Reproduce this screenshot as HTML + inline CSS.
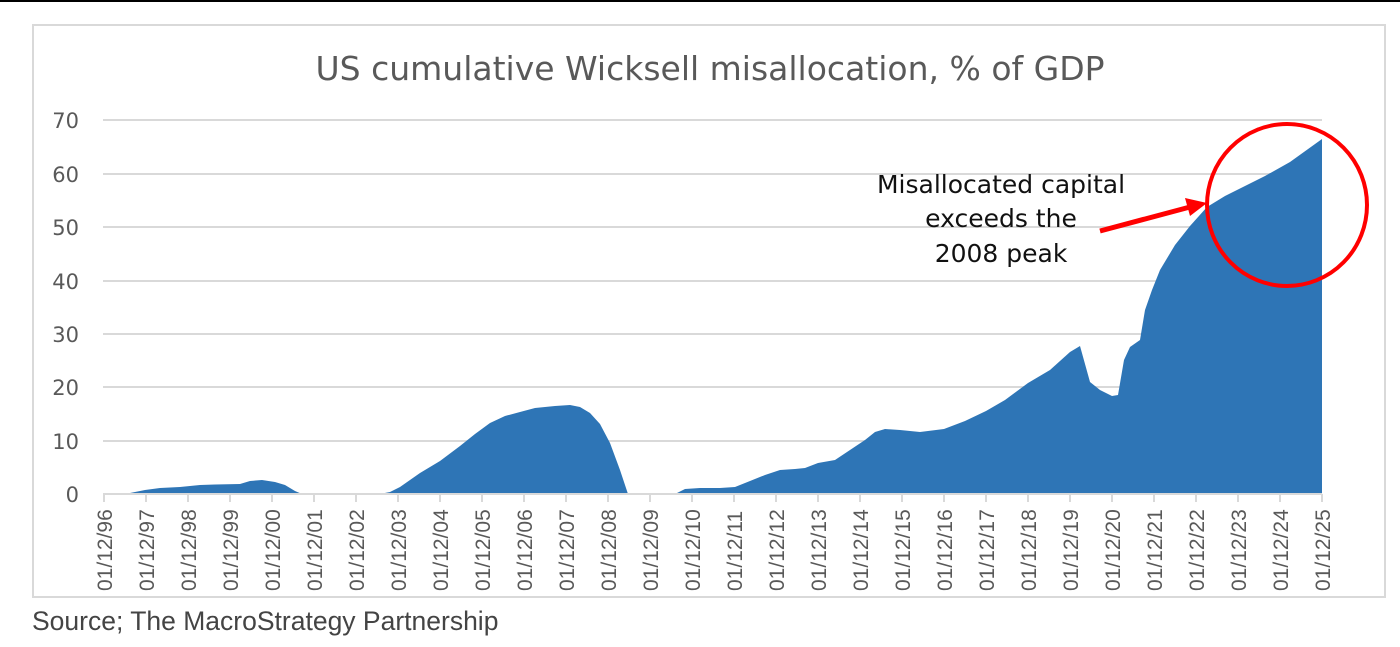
<!DOCTYPE html>
<html><head><meta charset="utf-8"><style>
body{margin:0;width:1400px;height:642px;background:#fff;overflow:hidden;font-family:"Liberation Sans",sans-serif}
</style></head><body>
<svg width="1400" height="642" xmlns="http://www.w3.org/2000/svg">
<line x1="0" y1="1" x2="1400" y2="1" stroke="#000" stroke-width="2"/>
<rect x="33" y="25" width="1352" height="572" fill="#fff" stroke="#d9d9d9" stroke-width="2"/>
<text x="710" y="80" text-anchor="middle" font-family="DejaVu Sans, sans-serif" font-size="33" fill="#595959">US cumulative Wicksell misallocation, % of GDP</text>
<g stroke="#d9d9d9" stroke-width="2">
<line x1="103" y1="120" x2="1322" y2="120"/>
<line x1="103" y1="174" x2="1322" y2="174"/>
<line x1="103" y1="227" x2="1322" y2="227"/>
<line x1="103" y1="281" x2="1322" y2="281"/>
<line x1="103" y1="334" x2="1322" y2="334"/>
<line x1="103" y1="387" x2="1322" y2="387"/>
<line x1="103" y1="441" x2="1322" y2="441"/>
</g>
<g font-family="DejaVu Sans, sans-serif" font-size="21" fill="#595959" text-anchor="end">
<text x="79" y="128">70</text><text x="79" y="182">60</text><text x="79" y="235">50</text><text x="79" y="289">40</text><text x="79" y="342">30</text><text x="79" y="395">20</text><text x="79" y="449">10</text><text x="79" y="502">0</text>
</g>
<path fill="#2e75b6" d="M104,494 L104,493 L130,493 L145,490 L160,488 L180,487 L200,485 L215,484.5 L240,484 L250,481 L262,480 L275,482 L285,485 L295,491 L302,494 L380,494 L390,492 L400,487 L420,473 L440,461 L460,446 L475,434 L490,423 L505,416 L520,412 L535,408 L555,406 L570,405 L580,407 L590,413 L600,424 L610,443 L620,470 L628,494 L675,494 L685,489 L700,488 L720,488 L735,487 L750,481 L765,475 L780,470 L795,469 L805,468 L818,463 L835,460 L850,450 L865,440 L875,432 L885,429 L900,430 L920,432 L944,429 L965,421 L986,411 L1005,400 L1028,383 L1050,370 L1070,352 L1080,346 L1090,382 L1100,390 L1112,396 L1118,395 L1124,360 L1130,347 L1140,340 L1145,310 L1152,290 L1160,270 L1175,245 L1190,226 L1207,207 L1225,196 L1245,186 L1265,176 L1290,162 L1322,139 L1322,494 Z"/>
<line x1="103" y1="494" x2="1322" y2="494" stroke="#d9d9d9" stroke-width="2"/>
<g stroke="#d9d9d9" stroke-width="2" id="ticks"></g>
<g font-size="21" fill="#595959" id="labels"></g>
<g font-family="DejaVu Sans, sans-serif" font-size="25" fill="#111" text-anchor="middle">
<text x="1001" y="193">Misallocated capital</text>
<text x="1001" y="227">exceeds the</text>
<text x="1001" y="262">2008 peak</text>
</g>
<line x1="1100" y1="231" x2="1190" y2="207" stroke="#f00" stroke-width="5"/>
<polygon points="1207,203 1185,198 1190,216" fill="#f00"/>
<ellipse cx="1287" cy="205" rx="80" ry="81" fill="none" stroke="#f00" stroke-width="4"/>
<text x="32" y="630" font-size="26.5" fill="#444">Source; The MacroStrategy Partnership</text>
</svg>
<script>
var t=document.getElementById('ticks'),l=document.getElementById('labels'),ns='http://www.w3.org/2000/svg';
for(var i=0;i<30;i++){var x=104+i*42.0;var yr=(96+i)%100;var s=(yr<10?'0':'')+yr;
var ln=document.createElementNS(ns,'line');ln.setAttribute('x1',x);ln.setAttribute('x2',x);ln.setAttribute('y1',494);ln.setAttribute('y2',502);t.appendChild(ln);
var tx=document.createElementNS(ns,'text');tx.setAttribute('transform','translate('+(x+8)+',591) rotate(-90)');tx.textContent='01/12/'+s;l.appendChild(tx);}
</script>
</body></html>
